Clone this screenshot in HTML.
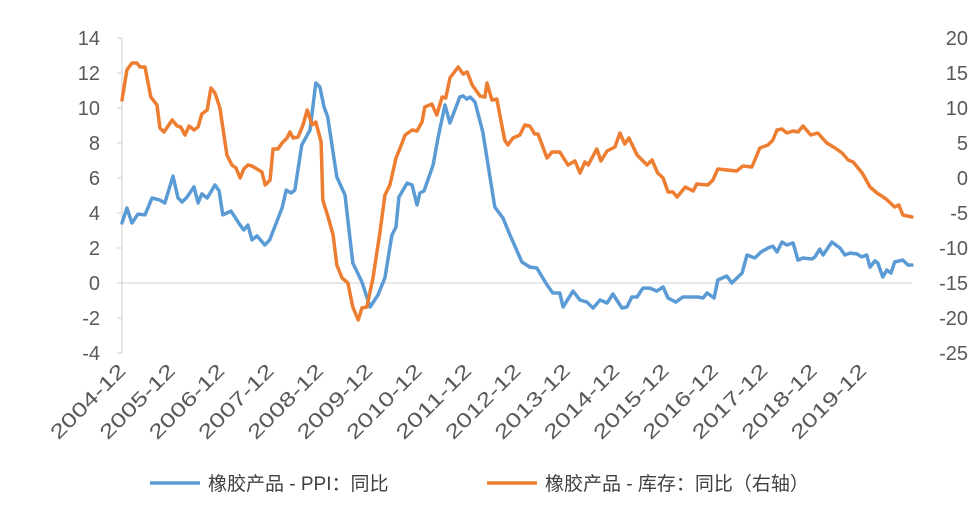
<!DOCTYPE html>
<html><head><meta charset="utf-8">
<style>
html,body{margin:0;padding:0;background:#fff;}
svg{display:block;font-family:"Liberation Sans","Noto Sans CJK SC",sans-serif;}
</style></head>
<body>
<svg id="chart" width="980" height="524" viewBox="0 0 980 524" xmlns="http://www.w3.org/2000/svg">
<g id="axes"></g>
<g id="series"></g>
<g>
 <g>
  <line x1="150" y1="483" x2="200" y2="483" stroke="#5B9BD5" stroke-width="3.5"/>
  <text x="208" y="490" font-size="19" fill="#404040">橡胶产品 - PPI：同比</text>
 </g>
 <g>
  <line x1="487" y1="483" x2="537" y2="483" stroke="#ED7D31" stroke-width="3.5"/>
  <text x="545" y="490" font-size="19" fill="#404040">橡胶产品 - 库存：同比（右轴）</text>
 </g>
</g>
</svg>
<script>
const xLabels=["2004-12","2005-12","2006-12","2007-12","2008-12","2009-12","2010-12","2011-12","2012-12","2013-12","2014-12","2015-12","2016-12","2017-12","2018-12","2019-12"];
const leftTicks=[14,12,10,8,6,4,2,0,-2,-4];
const rightTicks=[20,15,10,5,0,-5,-10,-15,-20,-25];
const ppiMonths=[0,1.2,2.4,3.9,5.6,7.3,9.2,10.4,12.4,13.6,14.6,15.8,17.5,18.5,19.4,20.7,22.6,23.6,24.5,26.5,28.7,29.6,30.6,31.6,32.8,34.7,35.9,38.9,39.9,41.1,42,43.7,45.7,47.1,48.1,49.1,50,52.2,54.2,56.1,58.3,60.3,62.2,63.9,65.6,66.6,67.3,69.3,70.5,71.7,72.4,73.4,75.6,76.8,78.5,79.7,82.1,82.9,83.8,84.6,85.8,87.7,90.6,92.6,94.3,97.2,99.1,100.8,103.3,104.7,106.4,107.2,109.6,111.3,113,114.5,116.2,117.9,119.3,121.5,122.7,123.9,125.2,126.6,128.3,130,131.5,132.7,134.6,136.3,138.5,140,141.2,142.2,143.9,144.8,147,148.2,150.7,151.9,153.8,155.3,157,158.2,159.2,160.4,161.6,163.1,164.3,165.5,167.7,168.4,169.6,170.4,172.5,174.5,175.7,176.9,178.6,179.8,181,181.8,183,183.7,184.9,185.9,186.9,187.8,189.8,191,192];
const ppiValues=[3.43,4.29,3.43,3.94,3.89,4.86,4.74,4.57,6.11,4.86,4.63,4.91,5.49,4.57,5.09,4.86,5.6,5.26,3.89,4.11,3.31,3.03,3.31,2.46,2.69,2.17,2.46,4.29,5.31,5.14,5.31,7.89,8.74,11.43,11.2,10.06,9.49,6.06,5.03,1.14,0.06,-1.37,-0.69,0.29,2.74,3.2,4.91,5.71,5.6,4.46,5.14,5.26,6.74,8.29,10.17,9.14,10.63,10.69,10.51,10.63,10.34,8.63,4.34,3.71,2.74,1.2,0.91,0.86,-0.11,-0.57,-0.57,-1.37,-0.46,-0.97,-1.09,-1.43,-0.97,-1.14,-0.63,-1.43,-1.37,-0.8,-0.8,-0.29,-0.29,-0.46,-0.23,-0.86,-1.09,-0.8,-0.8,-0.8,-0.86,-0.57,-0.86,0.17,0.4,0,0.57,1.6,1.43,1.77,2.0,2.11,1.77,2.34,2.17,2.29,1.31,1.43,1.37,1.49,1.94,1.6,2.34,2.0,1.6,1.71,1.66,1.49,1.6,0.91,1.26,1.14,0.34,0.74,0.57,1.2,1.31,1.03,1.03];
const invMonths=[0,1.2,2.4,3.6,4.4,5.6,7,8.5,9.2,10.2,12.2,13.4,14.3,15.3,16.3,17.5,18.5,19.4,20.7,21.6,22.6,23.8,25.5,26.7,27.7,28.7,29.6,30.6,31.6,32.8,34,34.8,36,36.7,37.9,38.9,40.1,40.8,41.6,42.8,44,45,46.2,47.1,48.4,48.8,50.1,51.3,52.2,53.5,54.9,56.1,57.4,58.3,59.5,61,62.7,63.9,65.1,66.6,67.6,68.8,70.5,71.7,72.9,73.6,75.3,76.5,77.8,78.7,79.7,81.7,82.9,83.9,85.1,87,88.2,88.7,89.9,91.1,92.3,93,93.8,95,96.7,97.9,99.1,100.3,101.1,103.3,104.5,106.4,108.4,110.1,111.3,112.5,113.3,115.4,116.4,117.9,119.8,121,122.2,123.2,125.2,127.6,128.8,130.2,131.5,132.7,133.9,134.9,136.9,138.8,139.7,142.4,143.6,144.8,149.4,150.9,153.1,155,157,158.2,159.2,160.4,161.6,163.1,164.3,165.5,167.4,169.1,171.3,173.3,175,176.5,177.7,179.9,181.8,183.5,185.7,187.8,188.8,189.8,192];
const invValues=[11.14,15.43,16.43,16.43,15.86,15.86,11.57,10.43,7.14,6.57,8.29,7.43,7.29,6.14,7.43,6.86,7.29,9.14,9.71,12.86,12.14,10.0,3.29,1.86,1.43,0,1.29,1.86,1.71,1.29,0.86,-1.0,-0.29,4.14,4.14,5.0,5.71,6.57,5.71,5.86,7.57,9.71,7.57,8.0,5.14,-3.14,-5.57,-8.14,-12.43,-14.29,-15.0,-18.43,-20.29,-18.57,-18.43,-14.29,-7.71,-2.43,-1.0,2.86,4.29,6.14,6.86,6.71,8.0,10.14,10.57,9.0,11.57,11.43,14.29,15.86,14.86,15.14,13.29,11.71,11.57,13.57,11.14,11.29,7.57,5.43,4.71,5.71,6.14,7.57,7.43,6.29,6.29,2.86,3.71,3.71,1.86,2.43,0.71,2.29,1.86,4.14,2.43,3.86,4.43,6.43,4.86,5.71,3.29,1.86,2.57,0.71,0,-2.0,-2.0,-2.71,-1.29,-1.86,-0.86,-1.0,-0.29,1.29,1.0,1.71,1.57,4.29,4.71,5.43,6.86,7.0,6.43,6.71,6.57,7.43,6.14,6.43,5.0,4.29,3.57,2.57,2.29,0.71,-1.29,-2.14,-3.0,-4.14,-3.86,-5.29,-5.57];

const NS="http://www.w3.org/2000/svg";
const X0=122,X1=912,TOP=38,BOT=353,MAXM=192;
const xScale=m=>X0+(X1-X0)*m/MAXM;
const yLeft=v=>TOP+(14-v)*(BOT-TOP)/18;
const yRight=v=>TOP+(20-v)*(BOT-TOP)/45;
function mk(tag,attrs,parent){const e=document.createElementNS(NS,tag);for(const k in attrs)e.setAttribute(k,attrs[k]);parent.appendChild(e);return e;}
const axes=document.getElementById('axes');
const series=document.getElementById('series');

const zl=mk('line',{x1:X0,x2:X1,y1:yLeft(0),y2:yLeft(0),stroke:'#d9d9d9','stroke-width':1.3},axes);


const ya=mk('line',{x1:X0,x2:X0,y1:TOP,y2:BOT,stroke:'#d9d9d9','stroke-width':1.3},axes);



leftTicks.forEach(v=>{
  const y=yLeft(v);
  const tk=mk('line',{x1:X0-5,x2:X0,y1:y,y2:y,stroke:'#d9d9d9','stroke-width':1.3},axes);
  
  
  const t=mk('text',{x:100,y:y+7,'font-size':20,fill:'#595959','text-anchor':'end'},axes);
  t.textContent=v;
  
  
});
rightTicks.forEach(v=>{
  const y=yRight(v);
  const t=mk('text',{x:968,y:y+7,'font-size':20,fill:'#595959','text-anchor':'end'},axes);
  t.textContent=v;
  
  
});
xLabels.forEach((s,i)=>{
  const x=xScale(i*12)+5, y=372;
  const t=mk('text',{x:x,y:y,'font-size':20,fill:'#595959','text-anchor':'end',textLength:97,lengthAdjust:'spacingAndGlyphs',transform:`rotate(-45 ${x} ${y})`},axes);
  t.textContent=s;
  
  
});
function line(ms,vs,ys,color,name){
  const d=ms.map((m,i)=>(i?'L':'M')+xScale(m).toFixed(1)+' '+ys(vs[i]).toFixed(1)).join(' ');
  const p=mk('path',{d:d,fill:'none',stroke:color,'stroke-width':3.5,'stroke-linejoin':'round','stroke-linecap':'round'},series);
  
  
}
line(ppiMonths,ppiValues,yLeft,'#5B9BD5','ppi-yoy-line');
line(invMonths,invValues,yRight,'#ED7D31','inventory-yoy-line');
</script>
</body></html>
